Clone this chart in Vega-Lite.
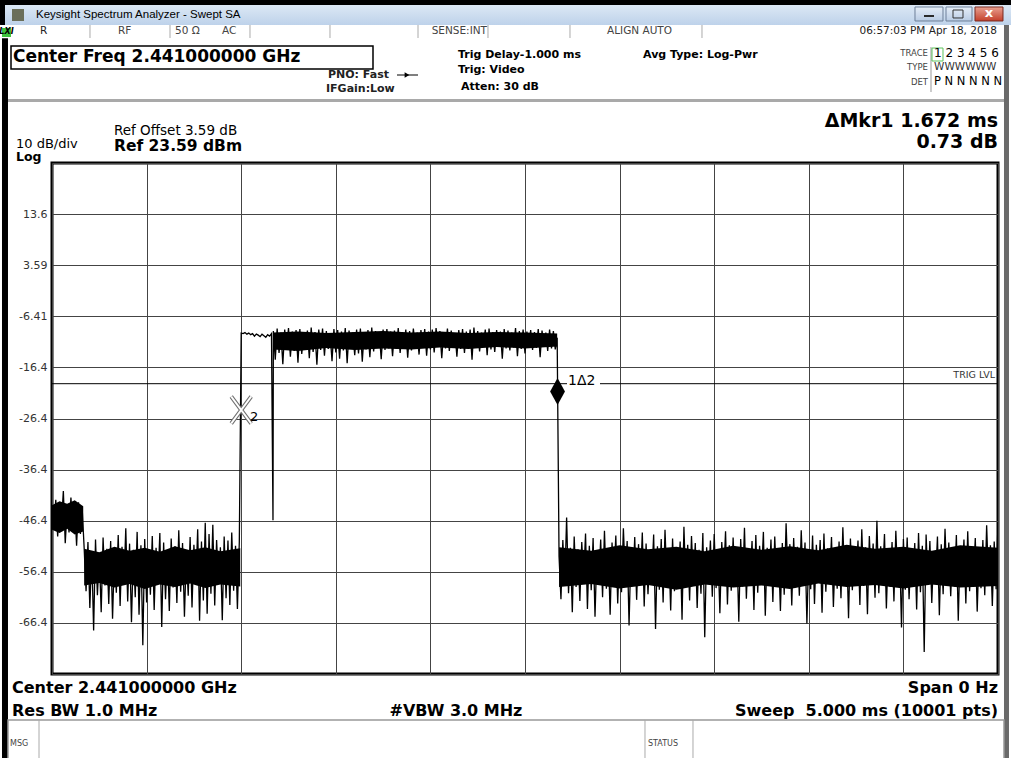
{
"$schema": "https://vega.github.io/schema/vega-lite/v6.json",
"width": 946, "height": 511,
"autosize": "none",
"padding": {"left": 52, "top": 163, "right": 13, "bottom": 84},
"background": "white",
"config": {"view": {"stroke": "#000", "strokeWidth": 3}, "text": {"font": "DejaVu Sans", "baseline": "middle", "align": "left", "color": "#000"}},
"data": {"values": [{}]},
"layer": [
{"mark": {"type": "rect", "color": "#000"}, "encoding": {"x": {"datum": -0.2748}, "x2": {"datum": 5.0687}, "y": {"datum": 55.49}, "y2": {"datum": 54.51}}},
{"mark": {"type": "rect", "color": {"gradient": "linear", "x1": 0, "y1": 0, "x2": 0, "y2": 1, "stops": [{"offset": 0, "color": "#dce8f5"}, {"offset": 1, "color": "#bed2ea"}]}}, "encoding": {"x": {"datum": -0.2484}, "x2": {"datum": 5.0687}, "y": {"datum": 54.51}, "y2": {"datum": 50.6}}},
{"mark": {"type": "rect", "color": "#6b6f5a"}, "encoding": {"x": {"datum": -0.2114}, "x2": {"datum": -0.148}, "y": {"datum": 53.73}, "y2": {"datum": 51.38}}},
{"mark": {"type": "text", "text": "Keysight Spectrum Analyzer - Swept SA", "font": "Liberation Sans", "fontSize": 11.5}, "encoding": {"x": {"datum": -0.0846}, "y": {"datum": 52.55}}},
{"mark": {"type": "rect", "color": {"gradient": "linear", "x1": 0, "y1": 0, "x2": 0, "y2": 1, "stops": [{"offset": 0, "color": "#e6eef8"}, {"offset": 1, "color": "#b9cce4"}]}, "stroke": "#6d7f99", "strokeWidth": 1}, "encoding": {"x": {"datum": 4.5613}, "x2": {"datum": 4.7093}, "y": {"datum": 54.12}, "y2": {"datum": 51.38}}},
{"mark": {"type": "rect", "color": {"gradient": "linear", "x1": 0, "y1": 0, "x2": 0, "y2": 1, "stops": [{"offset": 0, "color": "#e6eef8"}, {"offset": 1, "color": "#b9cce4"}]}, "stroke": "#6d7f99", "strokeWidth": 1}, "encoding": {"x": {"datum": 4.7252}, "x2": {"datum": 4.8626}, "y": {"datum": 54.12}, "y2": {"datum": 51.38}}},
{"mark": {"type": "rect", "color": {"gradient": "linear", "x1": 0, "y1": 0, "x2": 0, "y2": 1, "stops": [{"offset": 0, "color": "#e8a090"}, {"offset": 1, "color": "#c4402c"}]}, "stroke": "#7a2a20", "strokeWidth": 1}, "encoding": {"x": {"datum": 4.8784}, "x2": {"datum": 5.0264}, "y": {"datum": 54.12}, "y2": {"datum": 51.38}}},
{"mark": {"type": "rect", "color": "#2a2a2a"}, "encoding": {"x": {"datum": 4.6089}, "x2": {"datum": 4.6617}, "y": {"datum": 52.55}, "y2": {"datum": 52.16}}},
{"mark": {"type": "rect", "fill": null, "fillOpacity": 0, "stroke": "#333", "strokeWidth": 1}, "encoding": {"x": {"datum": 4.7622}, "x2": {"datum": 4.815}, "y": {"datum": 53.53}, "y2": {"datum": 51.97}}},
{"mark": {"type": "text", "text": "x", "fontWeight": "bold", "fontSize": 13, "align": "center", "color": "#fff"}, "encoding": {"x": {"datum": 4.9524}, "y": {"datum": 52.94}}},
{"mark": {"type": "rect", "color": "#3ec43e"}, "encoding": {"x": {"datum": -0.2643}, "x2": {"datum": -0.2167}, "y": {"datum": 50.01}, "y2": {"datum": 48.25}}},
{"mark": {"type": "text", "text": "LXI", "fontWeight": "bold", "fontStyle": "italic", "fontSize": 8, "align": "center"}, "encoding": {"x": {"datum": -0.2405}, "y": {"datum": 49.15}}},
{"mark": {"type": "rule", "color": "#aaa", "strokeWidth": 1}, "encoding": {"x": {"datum": 0.2008}, "y": {"datum": 50.6}, "y2": {"datum": 48.05}}},
{"mark": {"type": "rule", "color": "#aaa", "strokeWidth": 1}, "encoding": {"x": {"datum": 0.6237}, "y": {"datum": 50.6}, "y2": {"datum": 48.05}}},
{"mark": {"type": "rule", "color": "#aaa", "strokeWidth": 1}, "encoding": {"x": {"datum": 1.0465}, "y": {"datum": 50.6}, "y2": {"datum": 48.05}}},
{"mark": {"type": "rule", "color": "#aaa", "strokeWidth": 1}, "encoding": {"x": {"datum": 1.4693}, "y": {"datum": 50.6}, "y2": {"datum": 48.05}}},
{"mark": {"type": "rule", "color": "#aaa", "strokeWidth": 1}, "encoding": {"x": {"datum": 1.9345}, "y": {"datum": 50.6}, "y2": {"datum": 48.05}}},
{"mark": {"type": "rule", "color": "#aaa", "strokeWidth": 1}, "encoding": {"x": {"datum": 2.3044}, "y": {"datum": 50.6}, "y2": {"datum": 48.05}}},
{"mark": {"type": "rule", "color": "#aaa", "strokeWidth": 1}, "encoding": {"x": {"datum": 2.7378}, "y": {"datum": 50.6}, "y2": {"datum": 48.05}}},
{"mark": {"type": "rule", "color": "#aaa", "strokeWidth": 1}, "encoding": {"x": {"datum": 3.4355}, "y": {"datum": 50.6}, "y2": {"datum": 48.05}}},
{"mark": {"type": "text", "text": "R", "fontSize": 10.5, "color": "#222"}, "encoding": {"x": {"datum": -0.0634}, "y": {"datum": 49.42}}},
{"mark": {"type": "text", "text": "RF", "fontSize": 10.5, "color": "#444"}, "encoding": {"x": {"datum": 0.3488}, "y": {"datum": 49.42}}},
{"mark": {"type": "text", "text": "50 Ω", "fontSize": 10.5, "color": "#444"}, "encoding": {"x": {"datum": 0.6501}, "y": {"datum": 49.42}}},
{"mark": {"type": "text", "text": "AC", "fontSize": 10.5, "color": "#444"}, "encoding": {"x": {"datum": 0.8985}, "y": {"datum": 49.42}}},
{"mark": {"type": "text", "text": "SENSE:INT", "fontSize": 10.5, "color": "#444", "align": "right"}, "encoding": {"x": {"datum": 2.2992}, "y": {"datum": 49.42}}},
{"mark": {"type": "text", "text": "ALIGN AUTO", "fontSize": 10.5, "color": "#444"}, "encoding": {"x": {"datum": 2.9334}, "y": {"datum": 49.42}}},
{"mark": {"type": "text", "text": "06:57:03 PM Apr 18, 2018", "fontSize": 10.5, "color": "#222", "align": "right"}, "encoding": {"x": {"datum": 4.9947}, "y": {"datum": 49.42}}},
{"mark": {"type": "rect", "fill": "#fff", "stroke": "#000", "strokeWidth": 1.5}, "encoding": {"x": {"datum": -0.2167}, "x2": {"datum": 1.6966}, "y": {"datum": 46.49}, "y2": {"datum": 41.99}}},
{"mark": {"type": "text", "text": "Center Freq 2.441000000 GHz", "fontSize": 17, "fontWeight": "bold"}, "encoding": {"x": {"datum": -0.2061}, "y": {"datum": 44.33}}},
{"mark": {"type": "text", "text": "PNO: Fast", "fontSize": 11, "fontWeight": "bold", "color": "#222"}, "encoding": {"x": {"datum": 1.4588}, "y": {"datum": 40.81}}},
{"mark": {"type": "text", "text": "IFGain:Low", "fontSize": 11, "fontWeight": "bold", "color": "#222"}, "encoding": {"x": {"datum": 1.4482}, "y": {"datum": 38.07}}},
{"mark": {"type": "rule", "color": "#000", "strokeWidth": 1}, "encoding": {"x": {"datum": 1.8235}, "x2": {"datum": 1.9345}, "y": {"datum": 40.81}}},
{"mark": {"type": "point", "shape": "triangle-right", "size": 30, "filled": true, "color": "#000", "opacity": 1}, "encoding": {"x": {"datum": 1.8763}, "y": {"datum": 40.81}}},
{"mark": {"type": "text", "text": "Trig Delay-1.000 ms", "fontSize": 11, "fontWeight": "bold"}, "encoding": {"x": {"datum": 2.1459}, "y": {"datum": 44.73}}},
{"mark": {"type": "text", "text": "Trig: Video", "fontSize": 11, "fontWeight": "bold"}, "encoding": {"x": {"datum": 2.1459}, "y": {"datum": 41.79}}},
{"mark": {"type": "text", "text": "Atten: 30 dB", "fontSize": 11, "fontWeight": "bold"}, "encoding": {"x": {"datum": 2.1617}, "y": {"datum": 38.46}}},
{"mark": {"type": "text", "text": "Avg Type: Log-Pwr", "fontSize": 11, "fontWeight": "bold"}, "encoding": {"x": {"datum": 3.1237}, "y": {"datum": 44.73}}},
{"mark": {"type": "text", "text": "TRACE", "fontSize": 8.5, "color": "#444", "align": "right"}, "encoding": {"x": {"datum": 4.63}, "y": {"datum": 45.12}}},
{"mark": {"type": "text", "text": "TYPE", "fontSize": 8.5, "color": "#444", "align": "right"}, "encoding": {"x": {"datum": 4.63}, "y": {"datum": 42.38}}},
{"mark": {"type": "text", "text": "DET", "fontSize": 8.5, "color": "#444", "align": "right"}, "encoding": {"x": {"datum": 4.63}, "y": {"datum": 39.44}}},
{"mark": {"type": "rule", "color": "#999", "strokeWidth": 1}, "encoding": {"x": {"datum": 4.6459}, "y": {"datum": 46.29}, "y2": {"datum": 37.48}}},
{"mark": {"type": "rect", "fill": null, "fillOpacity": 0, "stroke": "#5cc45c", "strokeWidth": 1}, "encoding": {"x": {"datum": 4.6512}, "x2": {"datum": 4.7093}, "y": {"datum": 46.09}, "y2": {"datum": 43.55}}},
{"mark": {"type": "text", "text": "1 2 3 4 5 6", "fontSize": 12}, "encoding": {"x": {"datum": 4.6617}, "y": {"datum": 45.12}}},
{"mark": {"type": "text", "text": "WWWWWW", "fontSize": 10.5, "color": "#333"}, "encoding": {"x": {"datum": 4.6617}, "y": {"datum": 42.38}}},
{"mark": {"type": "text", "text": "P N N N N N", "fontSize": 11.5}, "encoding": {"x": {"datum": 4.6617}, "y": {"datum": 39.44}}},
{"mark": {"type": "rect", "color": "#a9a9a9"}, "encoding": {"x": {"datum": -0.2326}, "x2": {"datum": 5.0317}, "y": {"datum": 36.11}, "y2": {"datum": 35.53}}},
{"mark": {"type": "rect", "color": "#000"}, "encoding": {"x": {"datum": -0.2643}, "x2": {"datum": -0.2326}, "y": {"datum": 48.0}, "y2": {"datum": -93.63}}},
{"mark": {"type": "rect", "color": "#000"}, "encoding": {"x": {"datum": -0.2748}, "x2": {"datum": -0.2484}, "y": {"datum": 55.49}, "y2": {"datum": 50.6}}},
{"mark": {"type": "rect", "color": "#6a6a6a"}, "encoding": {"x": {"datum": 5.0317}, "x2": {"datum": 5.0581}, "y": {"datum": 50.6}, "y2": {"datum": -93.63}}},
{"mark": {"type": "text", "text": "10 dB/div", "fontSize": 13}, "encoding": {"x": {"datum": -0.1903}, "y": {"datum": 27.3}}},
{"mark": {"type": "text", "text": "Log", "fontSize": 12.5, "fontWeight": "bold"}, "encoding": {"x": {"datum": -0.1903}, "y": {"datum": 24.75}}},
{"mark": {"type": "text", "text": "Ref Offset 3.59 dB", "fontSize": 13.5}, "encoding": {"x": {"datum": 0.3277}, "y": {"datum": 29.85}}},
{"mark": {"type": "text", "text": "Ref 23.59 dBm", "fontSize": 15.5, "fontWeight": "bold"}, "encoding": {"x": {"datum": 0.3277}, "y": {"datum": 26.92}}},
{"mark": {"type": "text", "text": "ΔMkr1 1.672 ms", "fontSize": 19, "fontWeight": "bold", "align": "right"}, "encoding": {"x": {"datum": 5.0}, "y": {"datum": 31.81}}},
{"mark": {"type": "text", "text": "0.73 dB", "fontSize": 19, "fontWeight": "bold", "align": "right"}, "encoding": {"x": {"datum": 5.0}, "y": {"datum": 27.7}}},
{"data": {"values": [
{"s":"a","t":0.0,"hi":-43.4,"lo":-48.2},{"s":"a","t":0.04,"hi":-42.6,"lo":-48.8},{"s":"a","t":0.08,"hi":-43.1,"lo":-48.0},{"s":"a","t":0.12,"hi":-42.4,"lo":-49.1},{"s":"a","t":0.165,"hi":-43.6,"lo":-48.5},
{"s":"b","t":0.17,"hi":-51.9,"lo":-59.1},{"s":"b","t":0.25,"hi":-52.6,"lo":-58.6},{"s":"b","t":0.33,"hi":-51.5,"lo":-59.5},{"s":"b","t":0.41,"hi":-52.3,"lo":-58.8},{"s":"b","t":0.49,"hi":-51.7,"lo":-59.8},{"s":"b","t":0.57,"hi":-52.5,"lo":-58.9},{"s":"b","t":0.65,"hi":-51.4,"lo":-59.4},{"s":"b","t":0.73,"hi":-52.2,"lo":-58.7},{"s":"b","t":0.81,"hi":-51.6,"lo":-59.6},{"s":"b","t":0.89,"hi":-52.4,"lo":-58.9},{"s":"b","t":0.995,"hi":-51.8,"lo":-59.3},
{"s":"c","t":1.17,"hi":-9.6,"lo":-12.9},{"s":"c","t":1.3,"hi":-9.4,"lo":-13.2},{"s":"c","t":1.45,"hi":-9.7,"lo":-12.6},{"s":"c","t":1.6,"hi":-9.5,"lo":-13.0},{"s":"c","t":1.75,"hi":-9.3,"lo":-12.7},{"s":"c","t":1.9,"hi":-9.6,"lo":-12.9},{"s":"c","t":2.05,"hi":-9.4,"lo":-12.5},{"s":"c","t":2.2,"hi":-9.7,"lo":-12.8},{"s":"c","t":2.35,"hi":-9.5,"lo":-12.4},{"s":"c","t":2.5,"hi":-9.6,"lo":-12.7},{"s":"c","t":2.67,"hi":-9.8,"lo":-12.3},
{"s":"d","t":2.68,"hi":-51.6,"lo":-59.4},{"s":"d","t":2.85,"hi":-52.3,"lo":-58.8},{"s":"d","t":3.0,"hi":-51.2,"lo":-59.7},{"s":"d","t":3.15,"hi":-52.0,"lo":-59.0},{"s":"d","t":3.3,"hi":-51.5,"lo":-59.9},{"s":"d","t":3.45,"hi":-52.4,"lo":-58.9},{"s":"d","t":3.6,"hi":-51.3,"lo":-59.5},{"s":"d","t":3.75,"hi":-52.1,"lo":-59.1},{"s":"d","t":3.9,"hi":-51.4,"lo":-59.8},{"s":"d","t":4.05,"hi":-52.2,"lo":-58.7},{"s":"d","t":4.2,"hi":-51.1,"lo":-59.4},{"s":"d","t":4.35,"hi":-51.9,"lo":-59.0},{"s":"d","t":4.5,"hi":-51.5,"lo":-59.7},{"s":"d","t":4.65,"hi":-52.3,"lo":-58.9},{"s":"d","t":4.8,"hi":-51.2,"lo":-59.5},{"s":"d","t":5.0,"hi":-51.7,"lo":-59.2}
]},
"mark": {"type": "area", "color": "#000", "opacity": 1, "clip": true},
"encoding": {"x": {"field": "t", "type": "quantitative"}, "y": {"field": "hi", "type": "quantitative"}, "y2": {"field": "lo"}, "detail": {"field": "s"}}},
{"data": {"values": [
{"t":0.00,"p":-44.6},{"t":0.01,"p":-48.1},{"t":0.02,"p":-42.3},{"t":0.03,"p":-49.5},{"t":0.04,"p":-43.2},{"t":0.05,"p":-47.0},{"t":0.06,"p":-40.6},{"t":0.07,"p":-50.8},{"t":0.08,"p":-44.1},{"t":0.09,"p":-48.7},{"t":0.10,"p":-41.9},{"t":0.11,"p":-47.6},{"t":0.12,"p":-43.5},{"t":0.13,"p":-51.3},{"t":0.14,"p":-42.8},{"t":0.15,"p":-49.0},{"t":0.16,"p":-44.4},
{"t":0.17,"p":-51.8},{"t":0.18,"p":-60.2},{"t":0.19,"p":-50.6},{"t":0.20,"p":-63.5},{"t":0.21,"p":-52.4},{"t":0.22,"p":-67.9},{"t":0.23,"p":-50.1},{"t":0.24,"p":-61.0},{"t":0.25,"p":-53.2},{"t":0.26,"p":-64.3},{"t":0.27,"p":-49.7},{"t":0.28,"p":-59.1},{"t":0.29,"p":-51.9},{"t":0.30,"p":-62.7},{"t":0.31,"p":-50.4},{"t":0.32,"p":-65.6},{"t":0.33,"p":-52.8},{"t":0.34,"p":-60.5},{"t":0.35,"p":-49.2},{"t":0.36,"p":-63.1},{"t":0.37,"p":-51.5},{"t":0.38,"p":-58.8},{"t":0.39,"p":-47.9},{"t":0.40,"p":-62.2},{"t":0.41,"p":-50.9},{"t":0.42,"p":-66.3},{"t":0.43,"p":-52.1},{"t":0.44,"p":-61.4},{"t":0.45,"p":-48.6},{"t":0.46,"p":-64.8},{"t":0.47,"p":-51.2},{"t":0.48,"p":-70.8},{"t":0.49,"p":-50.0},{"t":0.50,"p":-62.4},{"t":0.51,"p":-52.6},{"t":0.52,"p":-60.9},{"t":0.53,"p":-49.4},{"t":0.54,"p":-63.9},{"t":0.55,"p":-51.7},{"t":0.56,"p":-58.4},{"t":0.57,"p":-48.8},{"t":0.58,"p":-67.2},{"t":0.59,"p":-50.7},{"t":0.60,"p":-61.8},{"t":0.61,"p":-52.3},{"t":0.62,"p":-64.1},{"t":0.63,"p":-49.9},{"t":0.64,"p":-59.5},{"t":0.65,"p":-51.4},{"t":0.66,"p":-62.5},{"t":0.67,"p":-48.3},{"t":0.68,"p":-60.3},{"t":0.69,"p":-50.8},{"t":0.70,"p":-65.2},{"t":0.71,"p":-52.9},{"t":0.72,"p":-61.1},{"t":0.73,"p":-49.6},{"t":0.74,"p":-63.4},{"t":0.75,"p":-51.1},{"t":0.76,"p":-59.0},{"t":0.77,"p":-48.1},{"t":0.78,"p":-66.0},{"t":0.79,"p":-50.5},{"t":0.80,"p":-62.0},{"t":0.81,"p":-46.8},{"t":0.82,"p":-64.6},{"t":0.83,"p":-49.0},{"t":0.84,"p":-60.7},{"t":0.85,"p":-47.2},{"t":0.86,"p":-63.0},{"t":0.87,"p":-50.2},{"t":0.88,"p":-58.6},{"t":0.89,"p":-51.6},{"t":0.90,"p":-65.9},{"t":0.91,"p":-49.5},{"t":0.92,"p":-61.6},{"t":0.93,"p":-50.3},{"t":0.94,"p":-62.9},{"t":0.95,"p":-48.7},{"t":0.96,"p":-60.1},{"t":0.97,"p":-51.3},{"t":0.98,"p":-63.7},{"t":0.99,"p":-50.6},
{"t":1.00,"p":-9.7},{"t":1.01,"p":-9.8},{"t":1.02,"p":-9.6},{"t":1.03,"p":-9.9},{"t":1.04,"p":-9.7},{"t":1.05,"p":-10.0},{"t":1.06,"p":-9.8},{"t":1.07,"p":-10.3},{"t":1.08,"p":-9.9},{"t":1.09,"p":-10.1},{"t":1.10,"p":-10.4},{"t":1.11,"p":-9.9},{"t":1.12,"p":-10.2},{"t":1.13,"p":-10.5},{"t":1.14,"p":-10.0},{"t":1.15,"p":-10.3},{"t":1.16,"p":-9.8},{"t":1.168,"p":-46.3},
{"t":1.17,"p":-9.3},{"t":1.18,"p":-14.9},{"t":1.19,"p":-8.8},{"t":1.20,"p":-13.6},{"t":1.21,"p":-9.6},{"t":1.22,"p":-15.8},{"t":1.23,"p":-9.0},{"t":1.24,"p":-12.9},{"t":1.25,"p":-8.7},{"t":1.26,"p":-14.3},{"t":1.27,"p":-9.4},{"t":1.28,"p":-13.2},{"t":1.29,"p":-9.1},{"t":1.30,"p":-15.5},{"t":1.31,"p":-8.9},{"t":1.32,"p":-13.8},{"t":1.33,"p":-9.7},{"t":1.34,"p":-12.7},{"t":1.35,"p":-9.2},{"t":1.36,"p":-14.6},{"t":1.37,"p":-8.6},{"t":1.38,"p":-13.4},{"t":1.39,"p":-9.5},{"t":1.40,"p":-15.9},{"t":1.41,"p":-9.0},{"t":1.42,"p":-13.0},{"t":1.43,"p":-8.8},{"t":1.44,"p":-14.1},{"t":1.45,"p":-9.3},{"t":1.46,"p":-12.8},{"t":1.47,"p":-9.8},{"t":1.48,"p":-15.2},{"t":1.49,"p":-8.9},{"t":1.50,"p":-13.5},{"t":1.51,"p":-9.1},{"t":1.52,"p":-14.7},{"t":1.53,"p":-9.4},{"t":1.54,"p":-13.1},{"t":1.55,"p":-8.7},{"t":1.56,"p":-15.6},{"t":1.57,"p":-9.2},{"t":1.58,"p":-12.6},{"t":1.59,"p":-9.6},{"t":1.60,"p":-14.0},{"t":1.61,"p":-9.0},{"t":1.62,"p":-13.7},{"t":1.63,"p":-8.8},{"t":1.64,"p":-15.3},{"t":1.65,"p":-9.5},{"t":1.66,"p":-12.9},{"t":1.67,"p":-9.1},{"t":1.68,"p":-14.4},{"t":1.69,"p":-8.6},{"t":1.70,"p":-13.3},{"t":1.71,"p":-9.3},{"t":1.72,"p":-12.5},{"t":1.73,"p":-9.7},{"t":1.74,"p":-14.8},{"t":1.75,"p":-9.0},{"t":1.76,"p":-13.0},{"t":1.77,"p":-8.9},{"t":1.78,"p":-12.7},{"t":1.79,"p":-9.4},{"t":1.80,"p":-14.2},{"t":1.81,"p":-9.2},{"t":1.82,"p":-12.8},{"t":1.83,"p":-8.7},{"t":1.84,"p":-13.6},{"t":1.85,"p":-9.5},{"t":1.86,"p":-12.4},{"t":1.87,"p":-9.0},{"t":1.88,"p":-14.5},{"t":1.89,"p":-9.3},{"t":1.90,"p":-13.1},{"t":1.91,"p":-8.8},{"t":1.92,"p":-12.6},{"t":1.93,"p":-9.6},{"t":1.94,"p":-13.9},{"t":1.95,"p":-9.1},{"t":1.96,"p":-12.3},{"t":1.97,"p":-8.9},{"t":1.98,"p":-14.1},{"t":1.99,"p":-9.4},{"t":2.00,"p":-12.9},{"t":2.01,"p":-9.0},{"t":2.02,"p":-13.5},{"t":2.03,"p":-8.7},{"t":2.04,"p":-12.2},{"t":2.05,"p":-9.3},{"t":2.06,"p":-14.6},{"t":2.07,"p":-9.5},{"t":2.08,"p":-12.7},{"t":2.09,"p":-8.8},{"t":2.10,"p":-13.2},{"t":2.11,"p":-9.2},{"t":2.12,"p":-12.5},{"t":2.13,"p":-9.7},{"t":2.14,"p":-14.3},{"t":2.15,"p":-9.1},{"t":2.16,"p":-12.8},{"t":2.17,"p":-8.9},{"t":2.18,"p":-13.6},{"t":2.19,"p":-9.4},{"t":2.20,"p":-12.4},{"t":2.21,"p":-9.0},{"t":2.22,"p":-14.9},{"t":2.23,"p":-8.6},{"t":2.24,"p":-12.6},{"t":2.25,"p":-9.3},{"t":2.26,"p":-13.3},{"t":2.27,"p":-9.6},{"t":2.28,"p":-12.1},{"t":2.29,"p":-9.0},{"t":2.30,"p":-14.0},{"t":2.31,"p":-8.8},{"t":2.32,"p":-12.9},{"t":2.33,"p":-9.5},{"t":2.34,"p":-13.4},{"t":2.35,"p":-9.1},{"t":2.36,"p":-12.3},{"t":2.37,"p":-9.4},{"t":2.38,"p":-14.7},{"t":2.39,"p":-8.9},{"t":2.40,"p":-12.7},{"t":2.41,"p":-9.2},{"t":2.42,"p":-13.1},{"t":2.43,"p":-9.6},{"t":2.44,"p":-12.5},{"t":2.45,"p":-8.7},{"t":2.46,"p":-14.2},{"t":2.47,"p":-9.3},{"t":2.48,"p":-12.8},{"t":2.49,"p":-9.0},{"t":2.50,"p":-13.7},{"t":2.51,"p":-9.4},{"t":2.52,"p":-12.2},{"t":2.53,"p":-9.1},{"t":2.54,"p":-13.0},{"t":2.55,"p":-9.5},{"t":2.56,"p":-12.6},{"t":2.57,"p":-8.9},{"t":2.58,"p":-14.4},{"t":2.59,"p":-9.2},{"t":2.60,"p":-12.4},{"t":2.61,"p":-9.6},{"t":2.62,"p":-13.2},{"t":2.63,"p":-9.0},{"t":2.64,"p":-12.7},{"t":2.65,"p":-9.3},{"t":2.66,"p":-12.9},{"t":2.67,"p":-10.6},
{"t":2.68,"p":-53.4},{"t":2.69,"p":-61.8},{"t":2.70,"p":-50.2},{"t":2.71,"p":-58.9},{"t":2.72,"p":-45.8},{"t":2.73,"p":-60.6},{"t":2.74,"p":-51.7},{"t":2.75,"p":-64.3},{"t":2.76,"p":-49.5},{"t":2.77,"p":-59.4},{"t":2.78,"p":-52.0},{"t":2.79,"p":-62.1},{"t":2.80,"p":-50.6},{"t":2.81,"p":-57.8},{"t":2.82,"p":-48.9},{"t":2.83,"p":-63.7},{"t":2.84,"p":-51.3},{"t":2.85,"p":-60.0},{"t":2.86,"p":-49.8},{"t":2.87,"p":-65.2},{"t":2.88,"p":-52.4},{"t":2.89,"p":-58.5},{"t":2.90,"p":-50.1},{"t":2.91,"p":-61.4},{"t":2.92,"p":-48.4},{"t":2.93,"p":-59.7},{"t":2.94,"p":-51.9},{"t":2.95,"p":-64.8},{"t":2.96,"p":-50.7},{"t":2.97,"p":-58.2},{"t":2.98,"p":-49.3},{"t":2.99,"p":-62.6},{"t":3.00,"p":-51.5},{"t":3.01,"p":-60.4},{"t":3.02,"p":-47.9},{"t":3.03,"p":-57.6},{"t":3.04,"p":-50.4},{"t":3.05,"p":-66.9},{"t":3.06,"p":-52.2},{"t":3.07,"p":-59.2},{"t":3.08,"p":-49.6},{"t":3.09,"p":-61.9},{"t":3.10,"p":-51.0},{"t":3.11,"p":-58.7},{"t":3.12,"p":-48.7},{"t":3.13,"p":-63.2},{"t":3.14,"p":-50.9},{"t":3.15,"p":-60.8},{"t":3.16,"p":-52.6},{"t":3.17,"p":-57.9},{"t":3.18,"p":-49.1},{"t":3.19,"p":-67.6},{"t":3.20,"p":-51.4},{"t":3.21,"p":-59.9},{"t":3.22,"p":-50.0},{"t":3.23,"p":-62.4},{"t":3.24,"p":-48.2},{"t":3.25,"p":-58.3},{"t":3.26,"p":-51.8},{"t":3.27,"p":-64.0},{"t":3.28,"p":-49.9},{"t":3.29,"p":-60.2},{"t":3.30,"p":-52.3},{"t":3.31,"p":-57.7},{"t":3.32,"p":-50.5},{"t":3.33,"p":-65.8},{"t":3.34,"p":-47.6},{"t":3.35,"p":-59.1},{"t":3.36,"p":-51.1},{"t":3.37,"p":-62.0},{"t":3.38,"p":-49.4},{"t":3.39,"p":-58.6},{"t":3.40,"p":-50.8},{"t":3.41,"p":-63.5},{"t":3.42,"p":-52.1},{"t":3.43,"p":-60.7},{"t":3.44,"p":-48.8},{"t":3.45,"p":-69.2},{"t":3.46,"p":-51.6},{"t":3.47,"p":-58.0},{"t":3.48,"p":-50.3},{"t":3.49,"p":-61.3},{"t":3.50,"p":-49.0},{"t":3.51,"p":-59.6},{"t":3.52,"p":-52.5},{"t":3.53,"p":-64.5},{"t":3.54,"p":-50.6},{"t":3.55,"p":-57.5},{"t":3.56,"p":-48.5},{"t":3.57,"p":-62.8},{"t":3.58,"p":-51.2},{"t":3.59,"p":-60.1},{"t":3.60,"p":-49.7},{"t":3.61,"p":-58.8},{"t":3.62,"p":-51.9},{"t":3.63,"p":-66.2},{"t":3.64,"p":-50.0},{"t":3.65,"p":-59.3},{"t":3.66,"p":-47.8},{"t":3.67,"p":-61.7},{"t":3.68,"p":-52.0},{"t":3.69,"p":-58.1},{"t":3.70,"p":-50.4},{"t":3.71,"p":-63.9},{"t":3.72,"p":-49.2},{"t":3.73,"p":-60.5},{"t":3.74,"p":-51.3},{"t":3.75,"p":-57.4},{"t":3.76,"p":-48.6},{"t":3.77,"p":-65.0},{"t":3.78,"p":-51.7},{"t":3.79,"p":-59.0},{"t":3.80,"p":-50.1},{"t":3.81,"p":-62.3},{"t":3.82,"p":-49.5},{"t":3.83,"p":-58.4},{"t":3.84,"p":-52.7},{"t":3.85,"p":-64.1},{"t":3.86,"p":-50.8},{"t":3.87,"p":-60.9},{"t":3.88,"p":-46.9},{"t":3.89,"p":-57.8},{"t":3.90,"p":-51.0},{"t":3.91,"p":-63.0},{"t":3.92,"p":-49.8},{"t":3.93,"p":-59.5},{"t":3.94,"p":-51.5},{"t":3.95,"p":-61.1},{"t":3.96,"p":-48.3},{"t":3.97,"p":-58.6},{"t":3.98,"p":-50.7},{"t":3.99,"p":-66.5},{"t":4.00,"p":-52.2},{"t":4.01,"p":-59.8},{"t":4.02,"p":-49.3},{"t":4.03,"p":-62.7},{"t":4.04,"p":-51.1},{"t":4.05,"p":-57.9},{"t":4.06,"p":-50.2},{"t":4.07,"p":-64.4},{"t":4.08,"p":-48.9},{"t":4.09,"p":-60.3},{"t":4.10,"p":-51.8},{"t":4.11,"p":-58.2},{"t":4.12,"p":-49.6},{"t":4.13,"p":-63.3},{"t":4.14,"p":-52.4},{"t":4.15,"p":-59.7},{"t":4.16,"p":-50.5},{"t":4.17,"p":-61.6},{"t":4.18,"p":-47.7},{"t":4.19,"p":-58.9},{"t":4.20,"p":-51.2},{"t":4.21,"p":-65.5},{"t":4.22,"p":-49.9},{"t":4.23,"p":-60.0},{"t":4.24,"p":-52.8},{"t":4.25,"p":-57.6},{"t":4.26,"p":-50.3},{"t":4.27,"p":-62.9},{"t":4.28,"p":-48.1},{"t":4.29,"p":-59.2},{"t":4.30,"p":-51.6},{"t":4.31,"p":-64.7},{"t":4.32,"p":-49.4},{"t":4.33,"p":-58.3},{"t":4.34,"p":-50.9},{"t":4.35,"p":-61.5},{"t":4.36,"p":-46.4},{"t":4.37,"p":-60.6},{"t":4.38,"p":-51.4},{"t":4.39,"p":-57.7},{"t":4.40,"p":-49.0},{"t":4.41,"p":-63.6},{"t":4.42,"p":-52.1},{"t":4.43,"p":-59.4},{"t":4.44,"p":-50.6},{"t":4.45,"p":-62.2},{"t":4.46,"p":-48.4},{"t":4.47,"p":-58.0},{"t":4.48,"p":-51.9},{"t":4.49,"p":-67.3},{"t":4.50,"p":-50.0},{"t":4.51,"p":-59.9},{"t":4.52,"p":-49.7},{"t":4.53,"p":-61.8},{"t":4.54,"p":-52.3},{"t":4.55,"p":-58.5},{"t":4.56,"p":-50.8},{"t":4.57,"p":-63.8},{"t":4.58,"p":-48.8},{"t":4.59,"p":-60.4},{"t":4.60,"p":-51.3},{"t":4.61,"p":-72.1},{"t":4.62,"p":-49.1},{"t":4.63,"p":-59.0},{"t":4.64,"p":-50.4},{"t":4.65,"p":-62.5},{"t":4.66,"p":-52.6},{"t":4.67,"p":-57.9},{"t":4.68,"p":-49.5},{"t":4.69,"p":-64.9},{"t":4.70,"p":-51.0},{"t":4.71,"p":-60.8},{"t":4.72,"p":-48.0},{"t":4.73,"p":-58.7},{"t":4.74,"p":-50.7},{"t":4.75,"p":-61.2},{"t":4.76,"p":-52.0},{"t":4.77,"p":-59.3},{"t":4.78,"p":-49.2},{"t":4.79,"p":-66.0},{"t":4.80,"p":-51.5},{"t":4.81,"p":-58.1},{"t":4.82,"p":-50.1},{"t":4.83,"p":-62.6},{"t":4.84,"p":-48.5},{"t":4.85,"p":-60.2},{"t":4.86,"p":-51.7},{"t":4.87,"p":-57.8},{"t":4.88,"p":-49.8},{"t":4.89,"p":-64.2},{"t":4.90,"p":-52.4},{"t":4.91,"p":-59.6},{"t":4.92,"p":-50.2},{"t":4.93,"p":-61.0},{"t":4.94,"p":-47.3},{"t":4.95,"p":-58.4},{"t":4.96,"p":-51.2},{"t":4.97,"p":-63.1},{"t":4.98,"p":-50.5},{"t":4.99,"p":-59.8},{"t":5.00,"p":-46.6}
]},
"mark": {"type": "line", "color": "#000", "strokeWidth": 1.3, "clip": true},
"encoding": {
"x": {"field": "t", "type": "quantitative", "scale": {"domain": [0, 5], "nice": false, "zero": false}, "axis": {"values": [0, 0.5, 1, 1.5, 2, 2.5, 3, 3.5, 4, 4.5, 5], "labels": false, "ticks": false, "domain": false, "title": null, "grid": true, "gridColor": "#444", "gridWidth": 1, "gridOpacity": 1}},
"y": {"field": "p", "type": "quantitative", "scale": {"domain": [-76.41, 23.59], "nice": false, "zero": false}, "axis": {"values": [23.59, 13.59, 3.59, -6.41, -16.41, -26.41, -36.41, -46.41, -56.41, -66.41, -76.41], "labelExpr": "datum.value > 20 || datum.value < -70 ? '' : replace(format(datum.value, '.3r'), '\u2212', '-')", "ticks": false, "domain": false, "title": null, "grid": true, "gridColor": "#444", "gridWidth": 1, "gridOpacity": 1, "labelPadding": 5, "labelFont": "DejaVu Sans", "labelFontSize": 11, "labelColor": "#333", "labelOverlap": false, "labelBaseline": "middle"}}
}},
{"mark": {"type": "rule", "color": "#000", "strokeWidth": 1}, "encoding": {"x": {"datum": 0}, "x2": {"datum": 5}, "y": {"datum": -19.6}}},
{"mark": {"type": "point", "shape": "M-0.74,-1L0.74,1M-0.74,1L0.74,-1", "size": 729, "filled": false, "stroke": "#707070", "strokeWidth": 4, "opacity": 1}, "encoding": {"x": {"datum": 1.0}, "y": {"datum": -24.75}}},
{"mark": {"type": "point", "shape": "M-0.74,-1L0.74,1M-0.74,1L0.74,-1", "size": 729, "filled": false, "stroke": "#fff", "strokeWidth": 2, "opacity": 1}, "encoding": {"x": {"datum": 1.0}, "y": {"datum": -24.75}}},
{"mark": {"type": "text", "text": "2", "fontSize": 13}, "encoding": {"x": {"datum": 1.0465}, "y": {"datum": -26.12}}},
{"mark": {"type": "rect", "color": "#fff"}, "encoding": {"x": {"datum": 2.722}, "x2": {"datum": 2.8964}, "y": {"datum": -17.7}, "y2": {"datum": -21.23}}},
{"mark": {"type": "point", "shape": "M0,-1L0.55,0L0,1L-0.55,0Z", "size": 729, "filled": true, "color": "#000", "opacity": 1}, "encoding": {"x": {"datum": 2.672}, "y": {"datum": -21.13}}},
{"mark": {"type": "text", "text": "1Δ2", "fontSize": 14}, "encoding": {"x": {"datum": 2.7273}, "y": {"datum": -19.07}}},
{"mark": {"type": "text", "text": "TRIG LVL", "fontSize": 9.5, "color": "#333", "align": "right"}, "encoding": {"x": {"datum": 4.984}, "y": {"datum": -17.9}}},
{"mark": {"type": "text", "text": "Center 2.441000000 GHz", "fontSize": 16, "fontWeight": "bold"}, "encoding": {"x": {"datum": -0.2114}, "y": {"datum": -79.15}}},
{"mark": {"type": "text", "text": "Res BW 1.0 MHz", "fontSize": 16, "fontWeight": "bold"}, "encoding": {"x": {"datum": -0.2114}, "y": {"datum": -83.65}}},
{"mark": {"type": "text", "text": "#VBW 3.0 MHz", "fontSize": 16, "fontWeight": "bold", "align": "center"}, "encoding": {"x": {"datum": 2.1353}, "y": {"datum": -83.65}}},
{"mark": {"type": "text", "text": "Span 0 Hz", "fontSize": 16, "fontWeight": "bold", "align": "right"}, "encoding": {"x": {"datum": 5.0}, "y": {"datum": -79.15}}},
{"mark": {"type": "text", "text": "Sweep\u00a0 5.000 ms (10001 pts)", "fontSize": 16, "fontWeight": "bold", "align": "right"}, "encoding": {"x": {"datum": 5.0}, "y": {"datum": -83.65}}},
{"mark": {"type": "rect", "fill": "#fff", "stroke": "#999", "strokeWidth": 1.5}, "encoding": {"x": {"datum": -0.2326}, "x2": {"datum": 5.0317}, "y": {"datum": -85.41}, "y2": {"datum": -93.24}}},
{"mark": {"type": "rule", "color": "#aaa", "strokeWidth": 1}, "encoding": {"x": {"datum": -0.0687}, "y": {"datum": -85.41}, "y2": {"datum": -93.24}}},
{"mark": {"type": "rule", "color": "#aaa", "strokeWidth": 1}, "encoding": {"x": {"datum": 3.1342}, "y": {"datum": -85.41}, "y2": {"datum": -93.24}}},
{"mark": {"type": "rule", "color": "#aaa", "strokeWidth": 1}, "encoding": {"x": {"datum": 3.3879}, "y": {"datum": -85.41}, "y2": {"datum": -93.24}}},
{"mark": {"type": "text", "text": "MSG", "fontSize": 8, "color": "#444"}, "encoding": {"x": {"datum": -0.222}, "y": {"datum": -90.11}}},
{"mark": {"type": "text", "text": "STATUS", "fontSize": 8, "color": "#444"}, "encoding": {"x": {"datum": 3.1501}, "y": {"datum": -90.11}}},
{"mark": {"type": "rect", "color": "#000"}, "encoding": {"x": {"datum": -0.2748}, "x2": {"datum": 5.0687}, "y": {"datum": -93.24}, "y2": {"datum": -93.63}}}
]
}
